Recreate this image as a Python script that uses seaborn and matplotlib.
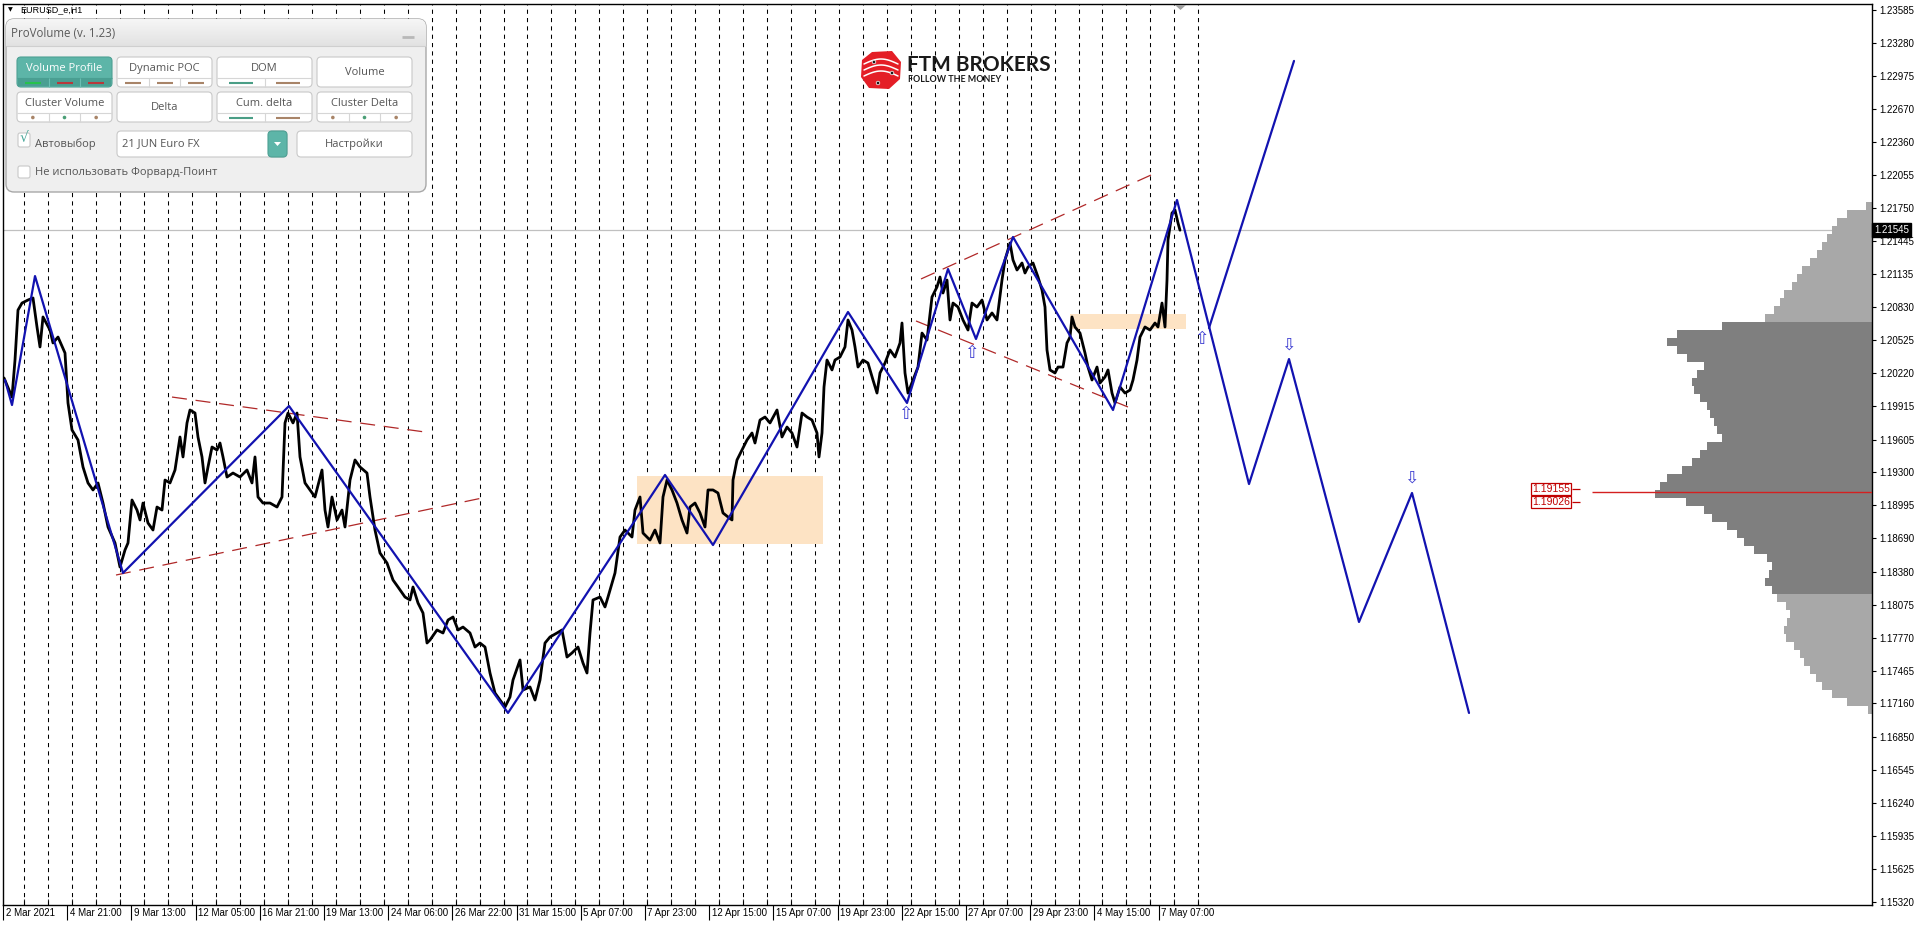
import numpy as np
import pandas as pd
import matplotlib
matplotlib.use("Agg")
import matplotlib.pyplot as plt
import seaborn as sns
from matplotlib.patches import FancyBboxPatch, Rectangle, Polygon, Circle
from matplotlib.transforms import ScaledTranslation, blended_transform_factory

sns.set_theme(style="white")
plt.rcParams['font.family'] = ['Liberation Sans', 'DejaVu Sans']

# ---------------- data ----------------
bar_x = [4,12,15,18,22,28,33,37,40,43,50,53,58,65,68,72,78,83,88,93,98,103,108,115,120,125,128,132,137,140,
         143,148,153,157,162,165,170,175,180,183,187,190,195,198,202,205,208,212,217,220,223,227,233,240,247,252,
         255,258,263,270,277,282,285,288,293,297,300,305,310,315,322,325,328,332,337,342,345,350,355,360,367,370,
         375,380,387,393,398,405,410,413,418,423,427,430,437,443,448,453,458,463,470,475,480,485,490,495,500,505,
         510,513,520,523,530,535,540,545,550,557,562,567,572,578,583,587,590,593,600,605,608,615,620,625,632,635,
         640,643,650,655,660,663,667,672,677,682,687,690,695,700,705,708,713,718,723,728,732,733,737,742,747,752,
         755,760,765,770,777,782,787,792,797,802,807,812,817,819,822,824,827,832,835,840,845,848,852,855,858,863,
         868,873,877,880,885,890,895,900,902,905,908,913,918,922,927,932,937,940,943,947,950,953,958,963,968,972,
         977,982,987,992,997,1002,1005,1010,1013,1017,1022,1025,1028,1033,1038,1042,1045,1047,1050,1055,1058,1063,
         1067,1070,1072,1075,1080,1085,1088,1092,1097,1100,1105,1108,1112,1115,1120,1125,1130,1133,1137,1140,1145,
         1150,1155,1158,1162,1165,1167,1168,1172,1175,1178,1180]
close_price = [1.20176,1.19999,1.20342,1.20805,1.20870,1.20898,1.20917,1.20648,1.20463,1.20741,1.20620,1.20500,
    1.20555,1.20407,1.19944,1.19694,1.19601,1.19351,1.19203,1.19138,1.19203,1.19017,1.18795,1.18647,1.18424,
    1.18582,1.18647,1.19045,1.18952,1.18860,1.19017,1.18832,1.18767,1.18980,1.18952,1.19230,1.19203,1.19323,
    1.19629,1.19444,1.19759,1.19879,1.19851,1.19629,1.19444,1.19203,1.19351,1.19536,1.19508,1.19573,1.19444,
    1.19258,1.19295,1.19258,1.19323,1.19203,1.19444,1.19073,1.19017,1.19017,1.18980,1.19073,1.19759,1.19851,
    1.19759,1.19851,1.19444,1.19203,1.19138,1.19073,1.19323,1.18952,1.18795,1.19073,1.18860,1.18952,1.18795,
    1.19230,1.19416,1.19351,1.19295,1.19073,1.18767,1.18554,1.18461,1.18304,1.18239,1.18146,1.18119,1.18239,
    1.18091,1.17998,1.17720,1.17748,1.17841,1.17813,1.17933,1.17961,1.17841,1.17868,1.17813,1.17683,1.17720,
    1.17683,1.17442,1.17257,1.17192,1.17127,1.17220,1.17377,1.17563,1.17285,1.17313,1.17192,1.17377,1.17720,
    1.17776,1.17813,1.17841,1.17590,1.17628,1.17683,1.17535,1.17442,1.17813,1.18119,1.18146,1.18054,1.18146,
    1.18369,1.18702,1.18767,1.18702,1.18952,1.19073,1.18739,1.18674,1.18767,1.18647,1.19073,1.19230,1.19138,
    1.19017,1.18860,1.18739,1.18980,1.19017,1.18925,1.18795,1.19138,1.19138,1.19110,1.18925,1.18888,1.18860,
    1.19230,1.19416,1.19508,1.19601,1.19666,1.19573,1.19786,1.19814,1.19759,1.19879,1.19629,1.19721,1.19666,
    1.19536,1.19851,1.19814,1.19786,1.19666,1.19444,1.19666,1.20092,1.20342,1.20250,1.20342,1.20370,1.20463,
    1.20713,1.20620,1.20463,1.20277,1.20342,1.20314,1.20157,1.20036,1.20222,1.20314,1.20435,1.20370,1.20500,
    1.20685,1.20222,1.20036,1.20157,1.20277,1.20592,1.20527,1.20926,1.21019,1.21111,1.20963,1.21083,1.20713,
    1.20870,1.20833,1.20713,1.20620,1.20870,1.20833,1.20898,1.20713,1.20778,1.20713,1.21083,1.21269,1.21426,
    1.21269,1.21176,1.21241,1.21148,1.21204,1.21241,1.21111,1.20991,1.20833,1.20435,1.20250,1.20222,1.20277,
    1.20277,1.20500,1.20555,1.20741,1.20648,1.20592,1.20407,1.20277,1.20157,1.20277,1.20129,1.20185,1.20250,
    1.20036,1.19944,1.20092,1.20036,1.20064,1.20157,1.20342,1.20555,1.20648,1.20620,1.20685,1.20648,1.20870,
    1.20648,1.21083,1.21454,1.21704,1.21732,1.21612,1.21545]

zigzag_x = [5, 12, 35, 123, 289, 508, 665, 713, 848, 907, 948, 976, 1013, 1113, 1177, 1249, 1289, 1359, 1412, 1469]
zigzag_price = [1.20157, 1.19925, 1.21120, 1.18369, 1.19916, 1.17072, 1.19277, 1.18628, 1.20787, 1.19944,
                1.21185, 1.20537, 1.21482, 1.19879, 1.21825, 1.19193, 1.20351, 1.17915, 1.19110, 1.17072]
alt_x = [1209, 1294]
alt_price = [1.20639, 1.23113]

trend_x0 = [116, 172, 921, 916]
trend_p0 = [1.18350, 1.19999, 1.21093, 1.20704]
trend_x1 = [487, 425, 1151, 1133]
trend_p1 = [1.19073, 1.19675, 1.22056, 1.19888]

zone_x0 = [637, 1070]
zone_x1 = [823, 1186]
zone_lo = [1.18638, 1.20630]
zone_hi = [1.19268, 1.20768]

arrow_x = [905, 971, 1201, 1288, 1411]
arrow_price = [1.19842, 1.20407, 1.20537, 1.20481, 1.19249]
arrow_dir = ['up', 'up', 'up', 'down', 'down']

profile_price = list(np.round(np.linspace(1.21769, 1.17101, 64), 5))
profile_volume = [6,25,35,40,45,50,55,62,70,75,80,88,92,98,107,150,195,205,195,185,168,175,180,178,172,165,
                  162,158,155,150,165,172,180,190,205,212,217,186,168,160,145,135,128,118,105,100,103,107,100,
                  95,86,82,85,88,86,78,72,68,62,56,50,40,25,4]
value_area = (1.18180, 1.20694)

current_price = 1.21545
poc_price = 1.19120
level_labels = ["1.19155", "1.19026"]
level_prices = [1.19147, 1.19027]

y_ticks = [1.23585,1.23280,1.22975,1.22670,1.22360,1.22055,1.21750,1.21445,1.21135,1.20830,1.20525,1.20220,
           1.19915,1.19605,1.19300,1.18995,1.18690,1.18380,1.18075,1.17770,1.17465,1.17160,1.16850,1.16545,
           1.16240,1.15935,1.15625,1.15320]
x_tick_labels = ["2 Mar 2021","4 Mar 21:00","9 Mar 13:00","12 Mar 05:00","16 Mar 21:00","19 Mar 13:00",
                 "24 Mar 06:00","26 Mar 22:00","31 Mar 15:00","5 Apr 07:00","7 Apr 23:00","12 Apr 15:00",
                 "15 Apr 07:00","19 Apr 23:00","22 Apr 15:00","27 Apr 07:00","29 Apr 23:00","4 May 15:00",
                 "7 May 07:00"]
x_tick_pos = [3 + 64.2 * i for i in range(len(x_tick_labels))]
day_sep_x = [24.3 + 23.96 * k for k in range(50)]

# ---------------- figure ----------------
W, H = 1920, 927
fig = plt.figure(figsize=(W / 100, H / 100), dpi=100)
fig.patch.set_facecolor('white')
L, R, T, B = 3, 1872, 4, 905
ax = fig.add_axes([L / W, (H - B) / H, (R - L) / W, (B - T) / H])
ax.set_facecolor('white')
ax.set_xlim(L, R)
y_top = 1.236777 - 0.000092652 * T
y_bot = 1.236777 - 0.000092652 * B
ax.set_ylim(y_bot, y_top)

# day separators
ax.vlines(day_sep_x, 0, 1, transform=ax.get_xaxis_transform(), colors='black',
          linestyles=(0, (4, 4)), linewidth=0.75, zorder=1)

# current price line
ax.axhline(current_price, color='#C0C0C0', lw=0.9, zorder=1)

# zones
for x0, x1, lo, hi in zip(zone_x0, zone_x1, zone_lo, zone_hi):
    ax.add_patch(Rectangle((x0, lo), x1 - x0, hi - lo, fc='#FDE3C4', ec='none', zorder=1.5))

# volume profile
pstep = abs(profile_price[1] - profile_price[0])
cols = ['#7F7F7F' if value_area[0] <= p <= value_area[1] else '#A8A8A8' for p in profile_price]
ax.barh(profile_price, profile_volume, left=[R - v for v in profile_volume], height=pstep,
        color=cols, edgecolor='none', zorder=2)

# POC line and labels
ax.hlines(poc_price, 1592, R, color='#D42020', lw=1.0, zorder=3)
for lab, p in zip(level_labels, level_prices):
    ax.text(1551, p, lab, ha='center', va='center', fontsize=7.5, color='#C00000', zorder=5,
            bbox=dict(boxstyle='square,pad=0.12', fc='white', ec='#C00000', lw=0.9))
    ax.hlines(p, 1572, 1580, color='#C00000', lw=0.9, zorder=5)

# trend lines
for x0, p0, x1, p1 in zip(trend_x0, trend_p0, trend_x1, trend_p1):
    ax.plot([x0, x1], [p0, p1], color='#B02828', lw=0.9, linestyle=(0, (12, 7)), zorder=3)

# price
sns.lineplot(x=bar_x, y=close_price, ax=ax, color='black', lw=2.0, sort=False, estimator=None, zorder=4)
# zigzag
sns.lineplot(x=zigzag_x, y=zigzag_price, ax=ax, color='#1212B0', lw=1.6, sort=False, estimator=None, zorder=5)
sns.lineplot(x=alt_x, y=alt_price, ax=ax, color='#1212B0', lw=1.6, sort=False, estimator=None, zorder=5)

# arrows
for x, p, d in zip(arrow_x, arrow_price, arrow_dir):
    ax.text(x, p, '\u21e7' if d == 'up' else '\u21e9', ha='center', va='center', fontsize=12.5,
            color='#3A3AD0', family='DejaVu Sans', zorder=6)

# axes styling
for s in ax.spines.values():
    s.set_color('black'); s.set_linewidth(1.0)
ax.yaxis.tick_right()
ax.set_yticks(y_ticks)
ax.set_yticklabels([f"{v:.5f}" for v in y_ticks])
ax.tick_params(axis='y', which='major', direction='out', length=3, width=0.8, pad=2,
               labelsize=7, colors='black', right=True, left=False)
ax.set_xticks(x_tick_pos)
ax.set_xticklabels(x_tick_labels, ha='left')
ax.set_xticks(day_sep_x, minor=True)
ax.tick_params(axis='x', which='major', direction='out', length=11, width=0.8, pad=-9,
               labelsize=7, colors='black', bottom=True)
ax.tick_params(axis='x', which='minor', direction='in', length=4, width=0.8, bottom=True)
for lab in ax.get_xticklabels():
    lab.set_transform(lab.get_transform() + ScaledTranslation(2.5 / 100, 0, fig.dpi_scale_trans))
ax.set_xlabel(''); ax.set_ylabel('')
ax.grid(False)

# current price box on axis
bt = blended_transform_factory(ax.transAxes, ax.transData)
ax.text(1.0012, current_price, f"{current_price:.5f}", transform=bt, ha='left', va='center', fontsize=7,
        color='white', zorder=10, clip_on=False,
        bbox=dict(boxstyle='square,pad=0.18', fc='black', ec='black'))

# ---------------- overlay (pixel coords) ----------------
ov = fig.add_axes([0, 0, 1, 1], zorder=10)
ov.set_xlim(0, W); ov.set_ylim(H, 0); ov.axis('off')
ov.patch.set_alpha(0)

# chart header
ov.text(8, 10, '\u25bc', fontsize=4.5, va='center', ha='left', color='black', family='DejaVu Sans')
ov.text(20, 10, 'EURUSD_e,H1', fontsize=6.5, va='center', ha='left', color='black')
# chart shift marker
ov.add_patch(Polygon([[1175, 5], [1186, 5], [1180.5, 10]], closed=True, fc='#A0A0A0', ec='none'))

def rbox(x0, y0, x1, y1, fc, ec, r=4, lw=0.8, z=11):
    p = FancyBboxPatch((x0, y0), x1 - x0, y1 - y0, boxstyle=f"round,pad=0,rounding_size={r}",
                       fc=fc, ec=ec, lw=lw, zorder=z)
    ov.add_patch(p)
    return p

UI = ['Open Sans', 'DejaVu Sans']
FS = 8.0
panel = rbox(6, 19, 426, 192, '#EFEFEF', '#A8A8A8', r=8, lw=1.0, z=11)
grad = np.linspace(0, 1, 50).reshape(-1, 1)
im = ov.imshow(grad, extent=(6, 426, 46, 19), cmap=matplotlib.colors.LinearSegmentedColormap.from_list(
    'g', ['#F6F6F6', '#E2E2E2']), aspect='auto', zorder=11.5)
im.set_clip_path(panel)
ov.hlines(46, 6, 426, color='#CFCFCF', lw=0.8, zorder=12)
ov.set_xlim(0, W); ov.set_ylim(H, 0)
ov.text(11, 33, 'ProVolume (v. 1.23)', fontsize=8.3, color='#5A5A5A', va='center', ha='left', family=UI, zorder=13)
ov.hlines(37, 402, 414, color='#B8B8B8', lw=2, zorder=13)

buttons = [
    ('Volume Profile', 17, 112, 57, 87, 'dash', ['#27C24C', '#B8383B', '#B8383B'], True),
    ('Dynamic POC', 117, 212, 57, 87, 'dash', ['#A88468', '#A88468', '#A88468'], False),
    ('DOM', 217, 312, 57, 87, 'dash', ['#4A9E86', '#A88468'], False),
    ('Volume', 317, 412, 57, 87, None, [], False),
    ('Cluster Volume', 17, 112, 92, 122, 'dot', ['#A88468', '#4A9E76', '#A88468'], False),
    ('Delta', 117, 212, 92, 122, None, [], False),
    ('Cum. delta', 217, 312, 92, 122, 'dash', ['#4A9E86', '#A88468'], False),
    ('Cluster Delta', 317, 412, 92, 122, 'dot', ['#A88468', '#4A9E76', '#A88468'], False),
]
for lab, x0, x1, y0, y1, kind, ccols, active in buttons:
    fc = '#5DB5A8' if active else 'white'
    ec = '#4EA094' if active else '#C9C9C9'
    rbox(x0, y0, x1, y1, fc, ec, r=4, z=12)
    tc = 'white' if active else '#555555'
    if kind is None:
        ov.text((x0 + x1) / 2, (y0 + y1) / 2, lab, fontsize=FS, color=tc, ha='center', va='center',
                family=UI, zorder=14)
        continue
    sy = y1 - 9
    if active:
        ov.add_patch(Rectangle((x0 + 1, sy), x1 - x0 - 2, 8, fc='#4A9F92', ec='none', zorder=12.5))
    ov.hlines(sy, x0, x1, color='#D6D6D6' if not active else '#4A9F92', lw=0.8, zorder=13)
    n = len(ccols)
    cw = (x1 - x0) / n
    for i, c in enumerate(ccols):
        if i > 0:
            ov.vlines(x0 + i * cw, sy, y1, color='#D6D6D6' if not active else '#6BBFB3', lw=0.8, zorder=13)
        cx = x0 + (i + 0.5) * cw
        if kind == 'dash':
            ov.hlines(sy + 4.5, cx - 8 if n == 3 else cx - 12, cx + 8 if n == 3 else cx + 12,
                      color=c, lw=1.5, zorder=14)
        else:
            ov.add_patch(Circle((cx, sy + 4.5), 1.8, fc=c, ec='none', zorder=14))
    ov.text((x0 + x1) / 2, (y0 + sy) / 2 + 0.5, lab, fontsize=FS, color=tc, ha='center', va='center',
            family=UI, zorder=14)

# row 3
rbox(18, 133, 30, 147, 'white', '#C9C9C9', r=2, z=12)
ov.text(24, 138, '\u221a', fontsize=10, color='#4AA89A', ha='center', va='center', family='DejaVu Sans', zorder=14)
ov.text(35, 144, 'Автовыбор', fontsize=FS, color='#555555', ha='left', va='center', family=UI, zorder=14)
rbox(117, 131, 287, 157, 'white', '#C9C9C9', r=4, z=12)
rbox(268, 131, 287, 157, '#5DB5A8', '#4EA094', r=4, z=12.5)
ov.add_patch(Polygon([[274, 142], [281, 142], [277.5, 146]], closed=True, fc='white', ec='none', zorder=14))
ov.text(122, 144, '21 JUN Euro FX', fontsize=FS, color='#555555', ha='left', va='center', family=UI, zorder=14)
rbox(297, 131, 412, 157, 'white', '#C9C9C9', r=4, z=12)
ov.text(354.5, 144, 'Настройки', fontsize=FS, color='#555555', ha='center', va='center', family=UI, zorder=14)
# row 4
rbox(18, 166, 30, 178, 'white', '#C9C9C9', r=2, z=12)
ov.text(35, 172, 'Не использовать Форвард-Поинт', fontsize=FS, color='#555555', ha='left', va='center',
        family=UI, zorder=14)

# FTM logo
icon = Polygon([[872, 52], [892, 51], [901, 62], [900, 79], [889, 89], [869, 88], [861, 77], [862, 60]],
               closed=True, fc='#E41E26', ec='none', zorder=12)
ov.add_patch(icon)
for off in (-6, 0, 6):
    xs = np.linspace(864, 898, 20)
    ys = 70 + off + 5 * np.sin((xs - 864) / 34 * np.pi) * -1
    ov.plot(xs, ys, color='white', lw=1.1, zorder=13)
for cx, cy in ((874, 62), (892, 73), (878, 83)):
    ov.add_patch(Circle((cx, cy), 1.8, fc='#1A1A1A', ec='white', lw=0.5, zorder=14))
ov.text(907, 65, 'FTM BROKERS', fontsize=15, fontweight='bold', color='#1A1A1A', ha='left', va='center',
        family=['Lato', 'DejaVu Sans'], zorder=13)
ov.text(908, 79, 'FOLLOW THE MONEY', fontsize=6.4, fontweight='bold', color='#1A1A1A', ha='left',
        va='center', family=['Lato', 'DejaVu Sans'], zorder=13)

fig.savefig('out.png', dpi=100, facecolor='white')
